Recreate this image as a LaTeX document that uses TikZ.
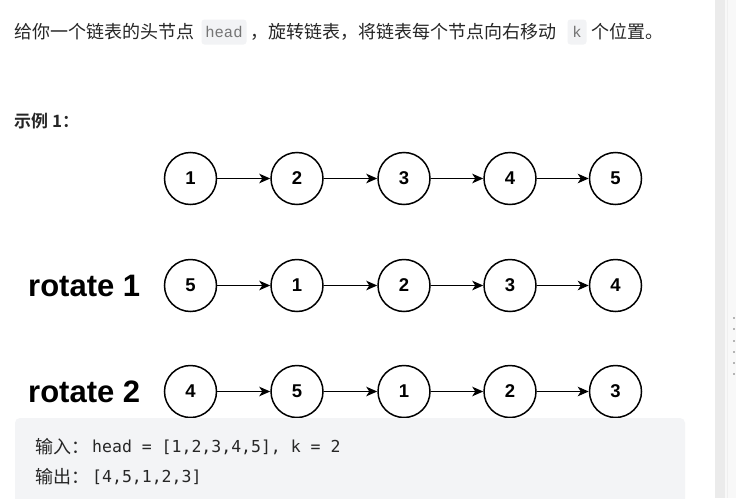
\documentclass[tikz,border=0pt]{standalone}
\usepackage{fontspec}
\setmainfont{Liberation Sans}
\newfontfamily\cjk{Noto Sans CJK SC}
\newfontfamily\cjkbold{Noto Sans CJK SC Bold}
\newfontfamily\chipfont{Liberation Mono}
\newfontfamily\codefont{DejaVu Sans Mono}
\usetikzlibrary{arrows.meta}
\definecolor{txt}{HTML}{262626}
\definecolor{chipbg}{HTML}{F2F3F5}
\definecolor{chiptxt}{HTML}{757575}
\definecolor{boxbg}{HTML}{F3F4F6}
\definecolor{barbg}{HTML}{EBEBEB}
\definecolor{barside}{HTML}{F8F8F8}
\definecolor{dotgray}{HTML}{B5B5B5}

\begin{document}
\begin{tikzpicture}[x=1pt, y=-1pt,
  listnode/.style={circle, draw, line width=1.5pt, minimum size=52pt, inner sep=0pt,
    font=\fontsize{18.5}{18.5}\selectfont\bfseries},
  nextptr/.style={line width=1.5pt, -{Stealth[length=11pt, width=9.5pt, inset=3pt]}},
  rowlabel/.style={anchor=west, inner sep=0pt, font=\fontsize{31}{31}\selectfont\bfseries},
  line/.style={anchor=west, inner sep=0pt, text=txt, font=\fontsize{18}{18}\selectfont\cjk},
  chip/.style={fill=chipbg, rounded corners=3pt, text=chiptxt, inner sep=0pt,
    minimum height=25pt, font=\fontsize{15.5}{15.5}\selectfont\chipfont},
  code/.style={anchor=west, inner sep=0pt, text=txt, font=\fontsize{16.5}{16.5}\selectfont\codefont}]
\useasboundingbox (0,0) rectangle (736,498);
\fill[white] (0,0) rectangle (736,498);

% scrollbar
\fill[barbg] (715,0) rectangle (725,498);
\fill[barside] (725,0) rectangle (736,498);
\draw[barbg!80!white, line width=0.8pt] (727,0) -- (727,498);
\foreach \dy in {318,329,341,352,363,374}
  \fill[dotgray] (732.5,\dy-1) rectangle (734.5,\dy+1);

% text above
\node (t1) at (14,32) [line] {给你一个链表的头节点};
\node (h) at (224,32) [chip, minimum width=45pt] {head};
\node (t2) at (250,32) [line] {，旋转链表，将链表每个节点向右移动};
\node (k) at (577,32) [chip, minimum width=19pt] {k};
\node (t3) at (591,32) [line] {个位置。};
\node (ex) at (14,121) [line, font=\fontsize{17}{17}\selectfont\cjkbold] {示例 1：};

% original list
\node (A1) at (190.5,178.5) [listnode] {1};
\node (A2) at (297,178.5) [listnode] {2};
\node (A3) at (404,178.5) [listnode] {3};
\node (A4) at (510,178.5) [listnode] {4};
\node (A5) at (615.5,178.5) [listnode] {5};

\draw (A1) edge [nextptr] (A2);
\draw (A2) edge [nextptr] (A3);
\draw (A3) edge [nextptr] (A4);
\draw (A4) edge [nextptr] (A5);

% rotate 1
\node (R1) at (28,286) [rowlabel] {rotate 1};
\node (B1) at (190.5,285.5) [listnode] {5};
\node (B2) at (297,285.5) [listnode] {1};
\node (B3) at (404,285.5) [listnode] {2};
\node (B4) at (510,285.5) [listnode] {3};
\node (B5) at (615.5,285.5) [listnode] {4};

\draw (B1) edge [nextptr] (B2);
\draw (B2) edge [nextptr] (B3);
\draw (B3) edge [nextptr] (B4);
\draw (B4) edge [nextptr] (B5);

% rotate 2
\node (R2) at (28,392) [rowlabel] {rotate 2};
\node (C1) at (190.5,391.5) [listnode] {4};
\node (C2) at (297,391.5) [listnode] {5};
\node (C3) at (404,391.5) [listnode] {1};
\node (C4) at (510,391.5) [listnode] {2};
\node (C5) at (615.5,391.5) [listnode] {3};

\draw (C1) edge [nextptr] (C2);
\draw (C2) edge [nextptr] (C3);
\draw (C3) edge [nextptr] (C4);
\draw (C4) edge [nextptr] (C5);

% input / output box
\fill[boxbg, rounded corners=5pt] (15,418) rectangle (685,510);
\node (in) at (35,447) [line] {输入：};
\node (inv) at (92,447) [code] {head = [1,2,3,4,5], k = 2};
\node (out) at (35,477) [line] {输出：};
\node (outv) at (92,477) [code] {[4,5,1,2,3]};
\end{tikzpicture}
\end{document}
